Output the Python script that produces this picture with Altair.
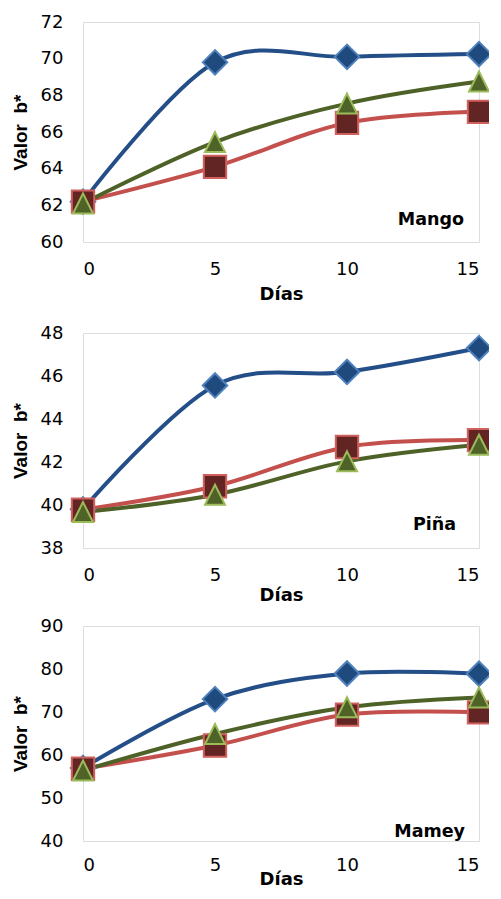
import altair as alt
import pandas as pd

days = [0, 5, 10, 15]
series = ["A", "B", "C"]

mango_a = [62.2, 69.8, 70.1, 70.25]
mango_b = [62.2, 64.1, 66.5, 67.1]
mango_c = [62.1, 65.45, 67.55, 68.75]

pina_a = [39.8, 45.56, 46.19, 47.3]
pina_b = [39.78, 40.87, 42.7, 43.02]
pina_c = [39.67, 40.48, 42.03, 42.8]

mamey_a = [57.0, 73.0, 78.96, 78.9]
mamey_b = [56.8, 62.2, 69.4, 69.9]
mamey_c = [56.4, 64.9, 71.1, 73.4]

panels = [
    ("Mango", [mango_a, mango_b, mango_c], [60, 72], [60, 62, 64, 66, 68, 70, 72], 220),
    ("Piña", [pina_a, pina_b, pina_c], [38, 48], [38, 40, 42, 44, 46, 48], 215),
    ("Mamey", [mamey_a, mamey_b, mamey_c], [40, 90], [40, 50, 60, 70, 80, 90], 215),
]

line_colors = ["#234E87", "#C4504D", "#4E6228"]
fill_colors = ["#1F4A7E", "#632523", "#4F6228"]
stroke_colors = ["#4F81BD", "#D0605C", "#9BBB59"]
shapes = ["diamond", "square", "M0,-1L1,1L-1,1Z"]
sizes = [600, 400, 600]

W = 396
LABEL_FONT = "DejaVu Sans"


def panel(name, vals, dom, ticks, h, text_dx, text_dy, lpad, tpad):
    rows = []
    for s, v in zip(series, vals):
        for d, y in zip(days, v):
            rows.append({"dia": d, "valor": y, "serie": s})
    df = pd.DataFrame(rows)
    x = alt.X("dia:Q", scale=alt.Scale(domain=[0, 15], nice=False),
              axis=alt.Axis(values=days, title="Días", grid=False, ticks=False, tickSize=0,
                            domain=False, labelFont=LABEL_FONT, labelFontSize=18,
                            labelColor="#000", labelPadding=lpad, titleFont=LABEL_FONT,
                            titleFontSize=18, titleFontWeight="bold", titleColor="#000",
                            titlePadding=tpad))
    y = alt.Y("valor:Q", scale=alt.Scale(domain=dom, nice=False, zero=False),
              axis=alt.Axis(values=ticks, title="Valor \u00a0b*", grid=False, ticks=False,
                            tickSize=0, domain=False, labelFont=LABEL_FONT, labelFontSize=18,
                            labelColor="#000", labelPadding=20, titleFont="Liberation Sans",
                            titleFontSize=19, titleFontWeight="bold", titleColor="#000",
                            titlePadding=10))
    base = alt.Chart(df)
    lines = base.mark_line(interpolate="cardinal", strokeWidth=4).encode(
        x=x, y=y,
        color=alt.Color("serie:N", scale=alt.Scale(domain=series, range=line_colors), legend=None),
        detail="serie:N",
    )
    pts = base.mark_point(filled=True, opacity=1, strokeWidth=2).encode(
        x=x, y=y,
        fill=alt.Fill("serie:N", scale=alt.Scale(domain=series, range=fill_colors), legend=None),
        stroke=alt.Stroke("serie:N", scale=alt.Scale(domain=series, range=stroke_colors), legend=None),
        shape=alt.Shape("serie:N", scale=alt.Scale(domain=series, range=shapes), legend=None),
        size=alt.Size("serie:N", scale=alt.Scale(domain=series, range=sizes), legend=None),
    )
    label = alt.Chart(pd.DataFrame({"t": [name]})).mark_text(
        font=LABEL_FONT, fontSize=17.5, fontWeight="bold", align="right",
        baseline="alphabetic", color="#000"
    ).encode(text="t:N", x=alt.value(W - text_dx), y=alt.value(h - text_dy))
    return alt.layer(lines, pts, label).properties(width=W, height=h)


p1 = panel(*panels[0], 15, 17, 18, 7)
p2 = panel(*panels[1], 23, 18, 18, 2)
p3 = panel(*panels[2], 14, 4, 15, -4)

inner = alt.vconcat(p2, p3, spacing=78, bounds="flush")
chart = alt.vconcat(p1, inner, spacing=91, bounds="flush").properties(
    padding={"top": 4, "left": 2, "right": -7, "bottom": -3.5}
).configure_view(stroke="#000", strokeWidth=1.6).configure(background="white")

chart.save("out.html", embed_options={"renderer": "svg", "actions": False})
